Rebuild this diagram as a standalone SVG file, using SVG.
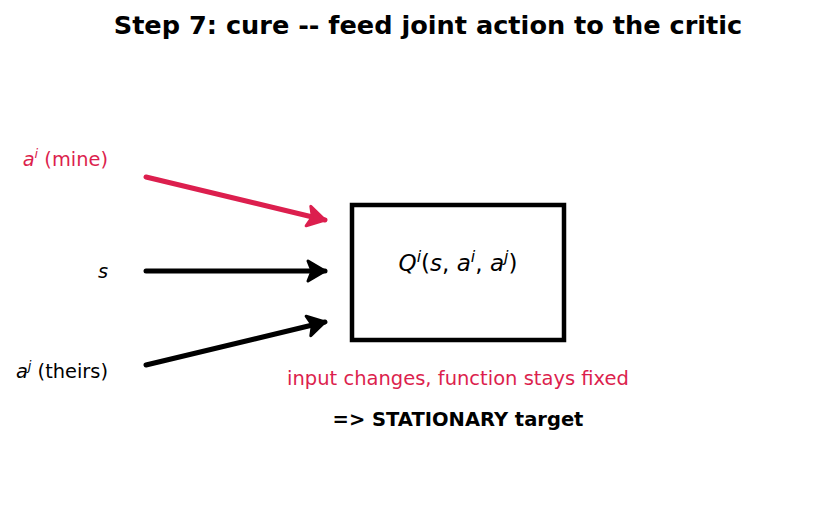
<svg xmlns="http://www.w3.org/2000/svg" width="821" height="512" viewBox="0 0 821 512">
<style>
.t{font-family:"DejaVu Sans",sans-serif;}
.red{fill:#dc1f4e;}
.blk{fill:#000;}
.m{font-style:italic;}
</style>
<defs>
<marker id="ahR" markerUnits="userSpaceOnUse" viewBox="-22 -14 26 28" refX="0" refY="0" markerWidth="26" markerHeight="28" orient="auto">
<path d="M0,0 L-17,-10 L-13,0 L-17,10 Z" fill="#dc1f4e" stroke="#dc1f4e" stroke-width="3" stroke-linejoin="round"/>
</marker>
<marker id="ahK" markerUnits="userSpaceOnUse" viewBox="-22 -14 26 28" refX="0" refY="0" markerWidth="26" markerHeight="28" orient="auto">
<path d="M0,0 L-17,-10 L-13,0 L-17,10 Z" fill="#000" stroke="#000" stroke-width="3" stroke-linejoin="round"/>
</marker>
</defs>
<rect width="821" height="512" fill="#fff"/>
<text class="t" x="428" y="34" text-anchor="middle" font-size="25.6" font-weight="bold">Step 7: cure -- feed joint action to the critic</text>
<g id="connectors" fill="none" stroke-width="5" stroke-linecap="round">
<line x1="146" y1="177" x2="325" y2="220" stroke="#dc1f4e" marker-end="url(#ahR)"/>
<line x1="146" y1="271" x2="325" y2="271" stroke="#000" marker-end="url(#ahK)"/>
<line x1="146" y1="365" x2="325" y2="322" stroke="#000" marker-end="url(#ahK)"/>
</g>
<g id="label-mine">
<text class="t red" x="108" y="166" font-size="19.4" text-anchor="end"><tspan class="m">a</tspan><tspan class="m" font-size="13" dy="-8">i</tspan><tspan dy="8"> (mine)</tspan></text>
</g>
<g id="label-s">
<text class="t blk m" x="108" y="278" font-size="19.4" text-anchor="end">s</text>
</g>
<g id="label-theirs">
<text class="t blk" x="108" y="378" font-size="19.4" text-anchor="end"><tspan class="m">a</tspan><tspan class="m" font-size="13" dy="-8">j</tspan><tspan dy="8"> (theirs)</tspan></text>
</g>
<g id="critic">
<rect x="352" y="205" width="212" height="135" fill="#fff" stroke="#000" stroke-width="4.5"/>
<text class="t blk" x="458" y="271" font-size="23" text-anchor="middle"><tspan class="m">Q</tspan><tspan class="m" font-size="16" dy="-9">i</tspan><tspan dy="9">(</tspan><tspan class="m">s</tspan><tspan>, </tspan><tspan class="m">a</tspan><tspan class="m" font-size="16" dy="-9">i</tspan><tspan dy="9">, </tspan><tspan class="m">a</tspan><tspan class="m" font-size="16" dy="-9">j</tspan><tspan dy="9">)</tspan></text>
</g>
<g id="notes">
<text class="t red" x="458" y="385" font-size="19.5" text-anchor="middle">input changes, function stays fixed</text>
<text class="t blk" x="458" y="426" font-size="19.5" font-weight="bold" text-anchor="middle">=&gt; STATIONARY target</text>
</g>
</svg>
